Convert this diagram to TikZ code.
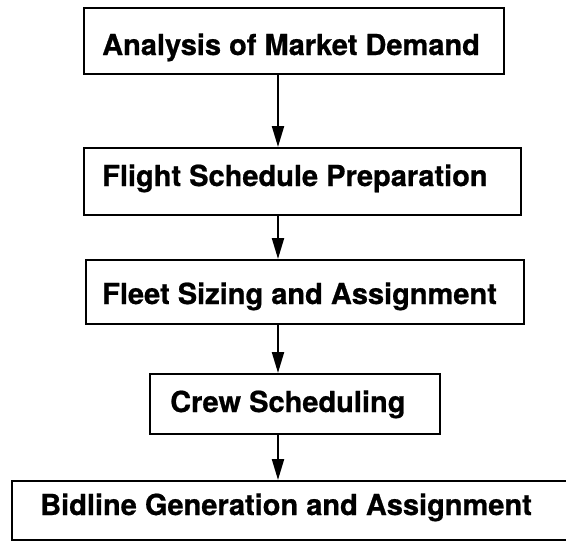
\documentclass[tikz,border=0pt]{standalone}
\usepackage{fontspec}
\setmainfont{TeX Gyre Heros}
\newfontfamily\lblfont{TeX Gyre Heros}[BoldFeatures={FakeBold=0.7}]
\usetikzlibrary{arrows.meta}
\begin{document}
\begin{tikzpicture}[x=1pt,y=-1pt,
  box/.style={draw, line width=2.2pt, inner sep=0pt, anchor=north west},
  lbl/.style={font=\lblfont\fontsize{29}{30}\selectfont\bfseries, inner sep=0pt, anchor=base west},
  arr/.style={line width=2.2pt, -{Triangle[length=21pt,width=12pt]}}]
\useasboundingbox (0,0) rectangle (566,541);
\begin{scope}
\clip (0,0) rectangle (566,541);
\node[box, minimum width=420pt, minimum height=66pt] (b1) at (83,7) {};
\node[box, minimum width=437pt, minimum height=67pt] (b2) at (83,147) {};
\node[box, minimum width=438pt, minimum height=64pt] (b3) at (85,259) {};
\node[box, minimum width=290pt, minimum height=60pt] (b4) at (149,373) {};
\node[box, minimum width=600pt, minimum height=59pt] (b5) at (11,480) {};
\end{scope}
\node[lbl] (t1) at (102,55) {Analysis of Market Demand};
\node[lbl] (t2) at (102,186) {Flight Schedule Preparation};
\node[lbl] (t3) at (102,304) {Fleet Sizing and Assignment};
\node[lbl] (t4) at (170,412) {Crew Scheduling};
\node[lbl] (t5) at (40,515) {Bidline Generation and Assignment};
\coordinate (ax) at (278,0);
\draw[arr] (b1.south -| ax) -- (b2.north -| ax);
\draw[arr] (b2.south -| ax) -- (b3.north -| ax);
\draw[arr] (b3.south -| ax) -- (b4.north -| ax);
\draw[arr] (b4.south -| ax) -- (b5.north -| ax);
\end{tikzpicture}
\end{document}
